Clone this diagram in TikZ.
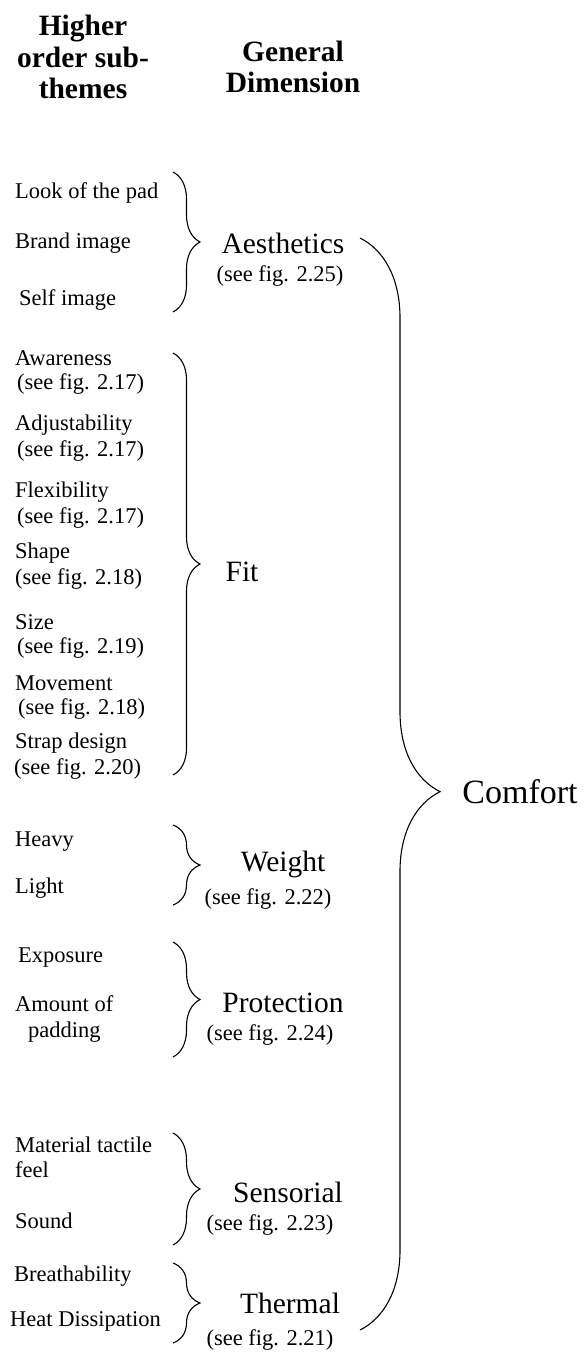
\documentclass[tikz,border=0pt]{standalone}
\usepackage{fontspec}
\setmainfont{Liberation Serif}
\usetikzlibrary{decorations.pathreplacing}

\begin{document}
\begin{tikzpicture}[x=1pt, y=-1pt,
    item/.style={anchor=west, inner sep=0pt, font=\fontsize{22.5}{27}\selectfont},
    figref/.style={inner sep=0pt, font=\fontsize{22.5}{27}\selectfont},
    dim/.style={inner sep=0pt, font=\fontsize{29.5}{35}\selectfont},
    head/.style={inner sep=0pt, align=center, font=\bfseries\fontsize{29.5}{31.5}\selectfont},
    brc/.style={decorate, decoration={brace, amplitude=27pt}, line width=1.1pt}]
    \useasboundingbox (0,0) rectangle (584,1354);
    % column headings
    \node[head] (hsub) at (83,57) {Higher\\order sub-\\themes};
    \node[head] (hdim) at (293,67) {General\\Dimension};
    % Aesthetics
    \node[item] (look) at (15,193) {Look of the pad};
    \node[item] (brand) at (15,243) {Brand image};
    \node[item] (self) at (19,300) {Self image};
    \node[dim] (aes) at (283,243) {Aesthetics};
    \node[figref] (aesref) at (280,276) {(see fig. 2.25)};
    \coordinate (aesT) at (173,172); \coordinate (aesB) at (173,312);
    % Fit
    \foreach \t/\f/\y/\x [count=\i] in {Awareness/2.17/358/17, Adjustability/2.17/425/17,
        Flexibility/2.17/492/17, Shape/2.18/553/15, Size/2.19/622/17,
        Movement/2.18/683/18, Strap design/2.20/743/14} {
        \node[item] (fit\i) at (15,\y) {\t};
        \node[item] (fitref\i) at (\x,\y+26) {(see fig. \f)};
    }
    \node[dim] (fit) at (242,572) {Fit};
    \coordinate (fitT) at (173,353); \coordinate (fitB) at (173,775);
    % Weight
    \node[item] (heavy) at (15,842) {Heavy};
    \node[item] (light) at (15,888) {Light};
    \node[dim] (wgt) at (283,864) {Weight};
    \node[figref] (wgtref) at (268,899) {(see fig. 2.22)};
    \coordinate (wgtT) at (173,825); \coordinate (wgtB) at (173,905);
    % Protection
    \node[item] (expo) at (18,958) {Exposure};
    \node[item] (amount) at (15,1004) {Amount of};
    \node[item] (padding) at (28,1032) {padding};
    \node[dim] (prot) at (283,1003) {Protection};
    \node[figref] (protref) at (270,1035) {(see fig. 2.24)};
    \coordinate (protT) at (173,942); \coordinate (protB) at (173,1057);
    % Sensorial
    \node[item] (mat) at (15,1145) {Material tactile};
    \node[item] (feel) at (15,1170) {feel};
    \node[item] (sound) at (15,1221) {Sound};
    \node[dim] (sens) at (288,1192) {Sensorial};
    \node[figref] (sensref) at (270,1225) {(see fig. 2.23)};
    \coordinate (sensT) at (173,1133); \coordinate (sensB) at (173,1245);
    % Thermal
    \node[item] (breath) at (14,1276) {Breathability};
    \node[item] (heat) at (10,1321) {Heat Dissipation};
    \node[dim] (therm) at (290,1303) {Thermal};
    \node[figref] (thermref) at (270,1340) {(see fig. 2.21)};
    \coordinate (thermT) at (173,1263); \coordinate (thermB) at (173,1343);
    % braces
    \foreach \g in {aes, fit, wgt, prot, sens, therm}
        \draw[brc] (\g T) -- (\g B);
    % overall
    \node[inner sep=0pt, font=\fontsize{34}{40}\selectfont] (comfort) at (520,792) {Comfort};
    \coordinate (allT) at (360,238); \coordinate (allB) at (360,1330);
    \draw[brc, decoration={brace, amplitude=80pt, aspect=0.507}] (allT) -- (allB);
\end{tikzpicture}
\end{document}
